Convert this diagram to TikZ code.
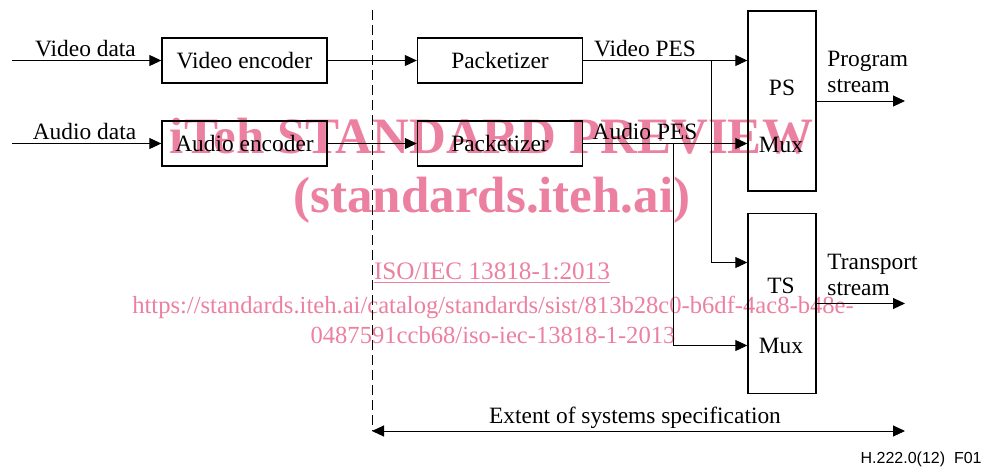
\documentclass[tikz,border=0pt]{standalone}
\usepackage{fontspec}
\setmainfont{Liberation Serif}
\newfontfamily\figsans{Liberation Sans}
\usetikzlibrary{arrows.meta}
\definecolor{wmpink}{RGB}{236,128,160}
\tikzset{
  blk/.style={draw,line width=0.7pt,minimum width=82.5pt,minimum height=22.5pt,inner sep=0pt},
  muxblk/.style={draw,line width=0.7pt,minimum width=34pt,minimum height=90pt,inner sep=0pt},
  lbl/.style={anchor=base,inner sep=0pt},
  flow/.style={-{Triangle[length=6pt,width=5.5pt]},line width=0.5pt},
  wm/.style={text=wmpink,anchor=base,inner sep=0pt}
}

\begin{document}
\begin{tikzpicture}[x={(0.5pt,0)},y={(0,-0.5pt)},font=\fontsize{11.7}{13}\selectfont]
\useasboundingbox (0,0) rectangle (982,468);
% watermark
\node[wm,font=\bfseries\fontsize{25.5}{28}\selectfont] (wm1) at (491.5,153) {iTeh STANDARD PREVIEW};
\node[wm,font=\bfseries\fontsize{25.5}{28}\selectfont] (wm2) at (492,212) {(standards.iteh.ai)};
\node[wm,font=\fontsize{12.6}{14}\selectfont] (wm3) at (492,279) {\underline{ISO/IEC 13818-1:2013}};
\node[wm,font=\fontsize{12.3}{14}\selectfont] (wm4) at (493,313) {https://standards.iteh.ai/catalog/standards/sist/813b28c0-b6df-4ac8-b48e-};
\node[wm,font=\fontsize{12.3}{14}\selectfont] (wm5) at (493,343) {0487591ccb68/iso-iec-13818-1-2013};
% boxes
\node[blk] (venc) at (244.5,60.5) {Video encoder};
\node[blk] (aenc) at (244.5,143.5) {Audio encoder};
\node[blk] (vpkt) at (500,60.5) {Packetizer};
\node[blk] (apkt) at (500,143.5) {Packetizer};
\node[muxblk] (psmux) at (782,101) {};
\node[muxblk] (tsmux) at (782,303.5) {};
\node[lbl] (pstxt) at (782,95) {PS};
\node[lbl] (psmx) at (781,152) {Mux};
\node[lbl] (tstxt) at (781,293) {TS};
\node[lbl] (tsmx) at (781,353) {Mux};
% points
\coordinate (vin) at (12,60.5);
\coordinate (ain) at (12,143.5);
\coordinate (vbr) at (711,60.5);
\coordinate (abr) at (673,143.5);
\coordinate (psout) at (905,101);
\coordinate (tsout) at (905,303.5);
\coordinate (dtop) at (372,10);
\coordinate (extl) at (372,431);
\coordinate (extr) at (905,431);
% labels
\node[lbl] (vdat) at (85.5,56) {Video data};
\node[lbl] (adat) at (84.5,139) {Audio data};
\node[lbl] (vpes) at (645,56) {Video PES};
\node[lbl] (apes) at (645,139) {Audio PES};
\node[anchor=north west,inner sep=0pt,align=left] (pslbl) at (827,51) {Program\\stream};
\node[anchor=north west,inner sep=0pt,align=left] (tslbl) at (827,253.5) {Transport\\stream};
\node[lbl] (extlbl) at (635,423) {Extent of systems specification};
\node[anchor=base east,inner sep=0pt,font=\figsans\fontsize{8}{9.6}\selectfont] (figno) at (982,463) {H.222.0(12)\ \ F01};
% connectors
\draw[flow] (vin) -- (venc.west);
\draw[flow] (ain) -- (aenc.west);
\draw[flow] (venc.east) -- (vpkt.west);
\draw[flow] (aenc.east) -- (apkt.west);
\draw[flow] (vpkt.east) -- (vpkt.east -| psmux.west);
\draw[flow] (apkt.east) -- (apkt.east -| psmux.west);
\draw[flow] (vbr) |- ([yshift=20.5pt]tsmux.west);
\draw[flow] (abr) |- ([yshift=-21pt]tsmux.west);
\draw[flow] (psmux.east) -- (psout);
\draw[flow] (tsmux.east) -- (tsout);
\draw[line width=0.5pt,dash pattern=on 5pt off 2.5pt] (dtop) -- (extl);
\draw[{Triangle[length=6pt,width=5.5pt]}-{Triangle[length=6pt,width=5.5pt]},line width=0.5pt] (extl) -- (extr);
\end{tikzpicture}
\end{document}
